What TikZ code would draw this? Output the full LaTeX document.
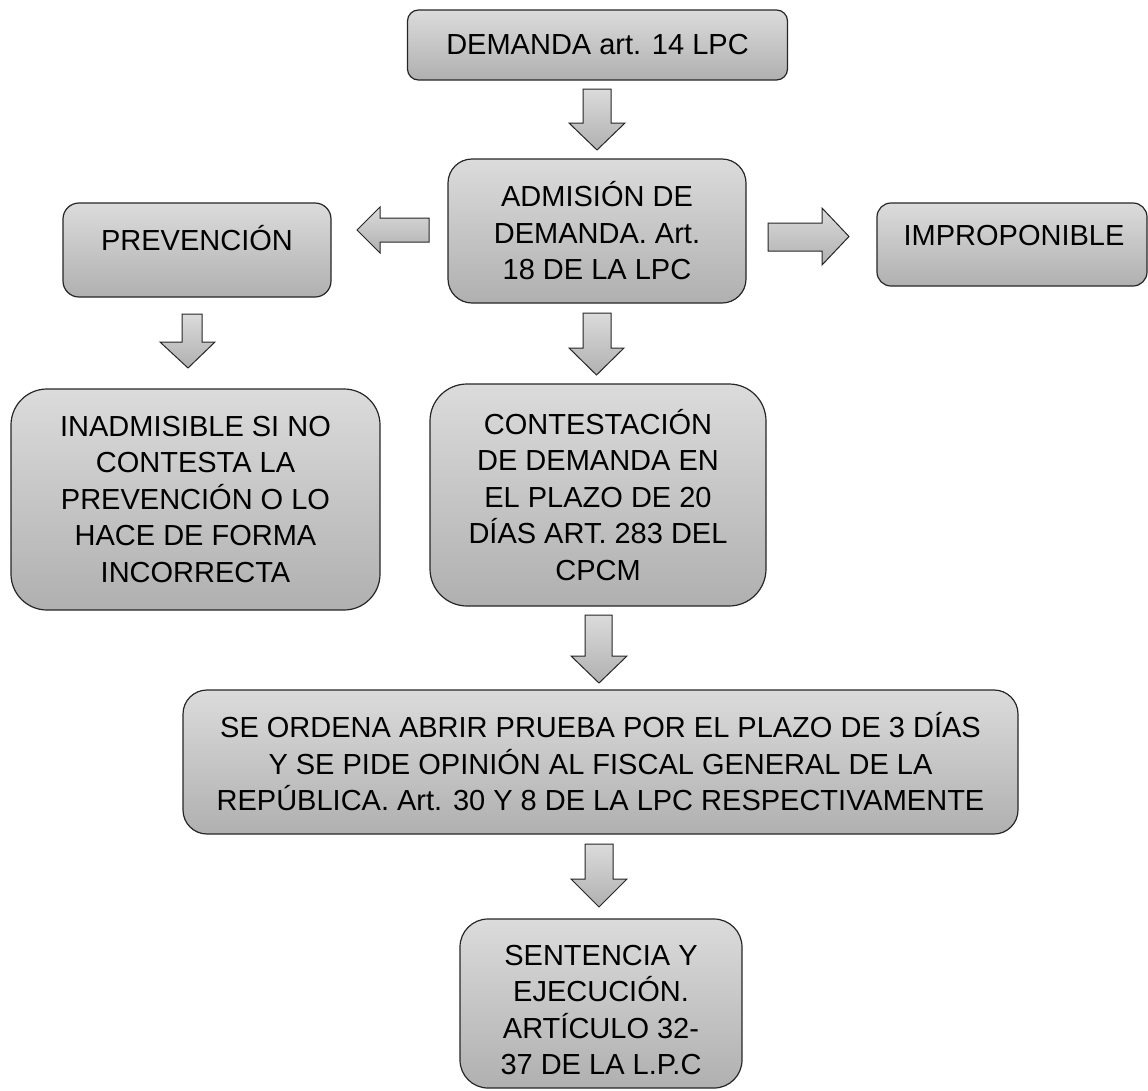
\documentclass[tikz,border=0pt]{standalone}
\usepackage{fontspec}
\setmainfont{Liberation Sans}
\definecolor{ftop}{gray}{0.86}
\definecolor{fbot}{gray}{0.69}
\begin{document}
\begin{tikzpicture}[x=1pt,y=-1pt,
  box/.style={draw=black!85, line width=1.2pt, top color=ftop, bottom color=fbot,
    align=center, font=\fontsize{29}{36.5}\selectfont, inner sep=0pt},
  blk/.style={draw=black!85, line width=1pt, top color=ftop, bottom color=fbot, line join=miter},
  txt/.style={align=center, font=\fontsize{29}{36.5}\selectfont, inner sep=0pt}]
\useasboundingbox (0,0) rectangle (1148,1090);

% boxes
\node[box, minimum width=380pt, minimum height=70pt, rounded corners=11pt] (dem) at (597.5,45) {DEMANDA art. 14 LPC};
\node[box, minimum width=298pt, minimum height=144pt, rounded corners=24pt] (adm) at (597,231) {ADMISIÓN DE\\DEMANDA. Art.\\18 DE LA LPC};
\node[box, minimum width=268pt, minimum height=94pt, rounded corners=16pt] (prev) at (197,250) {};
\node[txt, anchor=base] (prevt) at (197,250.4) {PREVENCIÓN};
\node[box, minimum width=270pt, minimum height=83pt, rounded corners=14pt] (impr) at (1012,244.5) {};
\node[txt, anchor=base] (imprt) at (1014,245.4) {IMPROPONIBLE};
\node[box, minimum width=369pt, minimum height=221pt, rounded corners=36pt] (inad) at (195.5,499.5) {INADMISIBLE SI NO\\CONTESTA LA\\PREVENCIÓN O LO\\HACE DE FORMA\\INCORRECTA};
\node[box, minimum width=336pt, minimum height=222pt, rounded corners=37pt] (cont) at (598,495) {CONTESTACIÓN\\DE DEMANDA EN\\EL PLAZO DE 20\\DÍAS ART. 283 DEL\\CPCM};
\node[box, minimum width=835pt, minimum height=144pt, rounded corners=24pt] (ord) at (600.5,762) {SE ORDENA ABRIR PRUEBA POR EL PLAZO DE 3 DÍAS\\Y SE PIDE OPINIÓN AL FISCAL GENERAL DE LA\\REPÚBLICA. Art. 30 Y 8 DE LA LPC RESPECTIVAMENTE};
\node[box, minimum width=282pt, minimum height=169pt, rounded corners=28pt] (sent) at (601,1003.5) {};
\node[txt] (sentt) at (601,1010) {SENTENCIA Y\\EJECUCIÓN.\\ARTÍCULO 32-\\37 DE LA L.P.C};

% block arrows
\path[blk] (583,89)--(611,89)--(611,123)--(625,123)--(597,150)--(569,123)--(583,123)--cycle;
\path[blk] (583,313)--(611,313)--(611,348)--(624,348)--(596.5,375)--(569,348)--(583,348)--cycle;
\path[blk] (585,615)--(612,615)--(612,656)--(627,656)--(599,683)--(571,656)--(585,656)--cycle;
\path[blk] (585,844)--(613,844)--(613,879)--(627,879)--(599,907)--(571,879)--(585,879)--cycle;
\path[blk] (182,314)--(202,314)--(202,342)--(215,342)--(188,368)--(160,342)--(182,342)--cycle;
\path[blk] (429,218)--(380,218)--(380,207)--(357,230)--(380,253)--(380,242)--(429,242)--cycle;
\path[blk] (768,223)--(822,223)--(822,208)--(849,236.5)--(822,265)--(822,251)--(768,251)--cycle;
\end{tikzpicture}
\end{document}
